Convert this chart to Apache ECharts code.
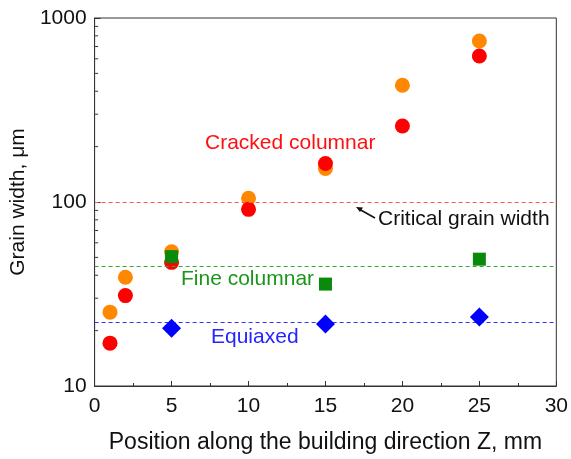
<!DOCTYPE html>
<html>
<head>
<meta charset="utf-8">
<script src="https://cdn.jsdelivr.net/npm/echarts@6/dist/echarts.min.js"></script>
<style>html,body{margin:0;padding:0;background:#fff;}#c{width:571px;height:459px;}</style>
</head>
<body>
<div id="c"></div>
<script>
var positions = [1, 2, 5, 10, 15, 20, 25];
var redValues = [17.1, 31.0, 47.0, 91.2, 162, 259, 621];
var orangeValues = [25.2, 39.0, 53.7, 104.7, 152, 431, 750];
var greenX = [5, 15, 25];
var greenValues = [50.5, 35.8, 48.9];
var blueX = [5, 15, 25];
var blueValues = [20.6, 21.7, 23.7];
var criticalWidth = 100;
var fineLevel = 44.5;
var equiaxedLevel = 22.3;
var minorLogTicks = [2,3,4,5,6,7,8,9,20,30,40,50,60,70,80,90,200,300,400,500,600,700,800,900];

function pairs(xs, ys){ return xs.map(function(x,i){ return [x, ys[i]]; }); }

var font = 'Liberation Sans, Arial, sans-serif';
var chart = echarts.init(document.getElementById('c'), null, {renderer:'canvas'});

function hline(value, color){
  return {
    silent: true, symbol: ['none','none'], label: {show:false},
    lineStyle: {color: color, type: [4,3], width: 1, opacity: 1},
    data: [{yAxis: value}]
  };
}

chart.setOption({
  animation: false,
  backgroundColor: '#fff',
  grid: {left: 94, right: 13, top: 18, bottom: 73, show: true, borderColor: '#333', borderWidth: 1, containLabel: false},
  xAxis: {
    type: 'value', min: 0, max: 30, interval: 5,
    name: 'Position along the building direction Z, mm', nameLocation: 'middle', nameGap: 45,
    nameTextStyle: {fontFamily: font, fontSize: 23, color: '#111'},
    axisLine: {show: true, lineStyle: {color: '#333', width: 1}},
    axisTick: {show: true, inside: true, length: 5, lineStyle: {color: '#333'}},
    minorTick: {show: true, splitNumber: 2, length: 3, lineStyle: {color: '#333'}},
    axisLabel: {fontFamily: font, fontSize: 21, color: '#111', margin: 10},
    splitLine: {show: false}
  },
  yAxis: {
    type: 'log', logBase: 10, min: 10, max: 1000,
    name: 'Grain width, \u03bcm', nameLocation: 'middle', nameGap: 64,
    nameTextStyle: {fontFamily: font, fontSize: 21, color: '#111'},
    axisLine: {show: true, lineStyle: {color: '#333', width: 1}},
    axisTick: {show: true, inside: true, length: 6, lineStyle: {color: '#333'}},
    axisLabel: {fontFamily: font, fontSize: 21, color: '#111', margin: 8, formatter: function(v){ return String(Math.round(v)); }},
    splitLine: {show: false}
  },
  series: [
    {
      type: 'scatter', name: 'minorTicks', silent: true, z: 1,
      symbol: 'rect', symbolSize: [3, 1], symbolOffset: [2, 0],
      itemStyle: {color: '#333', opacity: 1},
      data: minorLogTicks.map(function(v){ return [0, v]; })
    },
    {
      type: 'scatter', name: 'orange', symbol: 'circle', symbolSize: 15, z: 3,
      itemStyle: {color: '#ff8800', opacity: 1},
      data: pairs(positions, orangeValues),
      markLine: hline(criticalWidth, '#ff5555')
    },
    {
      type: 'scatter', name: 'red', symbol: 'circle', symbolSize: 15, z: 4,
      itemStyle: {color: '#ff0000', opacity: 1},
      data: pairs(positions, redValues)
    },
    {
      type: 'scatter', name: 'green', symbol: 'rect', symbolSize: 13, z: 5,
      itemStyle: {color: '#0a8a0a', opacity: 1},
      data: pairs(greenX, greenValues),
      markLine: hline(fineLevel, '#33aa33')
    },
    {
      type: 'scatter', name: 'blue', symbol: 'diamond', symbolSize: [19, 19], z: 5,
      itemStyle: {color: '#0000ff', opacity: 1},
      data: pairs(blueX, blueValues),
      markLine: hline(equiaxedLevel, '#3333ff')
    }
  ],
  graphic: [
    {type: 'text', left: 205, top: 133, style: {text: 'Cracked columnar', fontFamily: font, fontSize: 21, fill: '#ff1010'}},
    {type: 'text', left: 181, top: 269, style: {text: 'Fine columnar', fontFamily: font, fontSize: 21, fill: '#1a961a'}},
    {type: 'text', left: 211, top: 327, style: {text: 'Equiaxed', fontFamily: font, fontSize: 21, fill: '#2525ff'}},
    {type: 'text', left: 378, top: 209, style: {text: 'Critical grain width', fontFamily: font, fontSize: 21, fill: '#111'}},
    {type: 'line', shape: {x1: 375, y1: 218, x2: 359, y2: 209}, style: {stroke: '#111', lineWidth: 1.5}},
    {type: 'polygon', shape: {points: [[356, 207], [363, 207.5], [360, 212]]}, style: {fill: '#111'}}
  ]
});
</script>
</body>
</html>
